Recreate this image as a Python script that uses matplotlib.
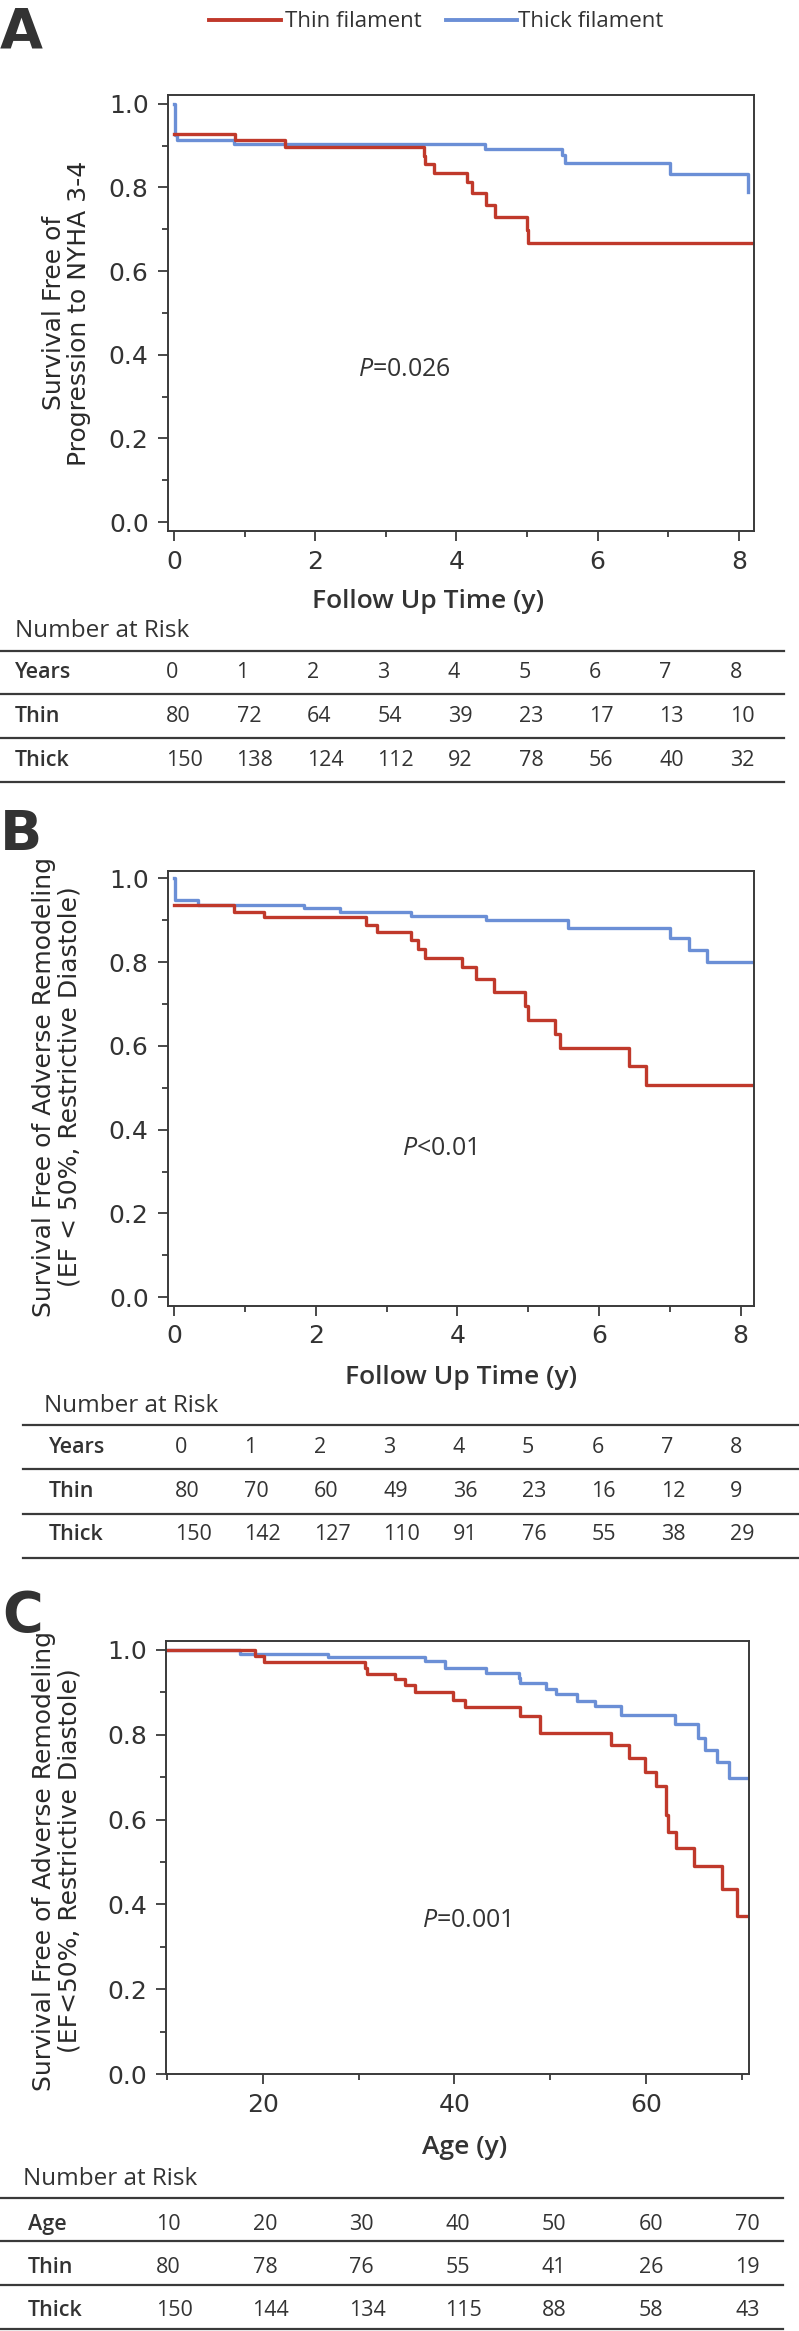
import matplotlib.pyplot as plt
from matplotlib.lines import Line2D
from matplotlib.ticker import MultipleLocator

W, H = 799, 2331
RED = "#c0392b"
BLUE = "#6b8fd6"
GRAY = "#3a3a3a"
TXT = "#333333"

# Panel A: progression to NYHA 3-4 (years)
thin_a_t = [0, 0.87, 1.57, 3.54, 3.56, 3.68, 4.15, 4.22, 4.42, 4.54, 5.0, 5.01, 8.21]
thin_a_s = [0.927, 0.913, 0.897, 0.875, 0.856, 0.835, 0.812, 0.786, 0.759, 0.730, 0.699, 0.667, 0.667]
thick_a_t = [0, 0.01, 0.04, 0.85, 4.41, 5.49, 5.54, 7.03, 8.13, 8.13]
thick_a_s = [1.0, 0.925, 0.913, 0.904, 0.891, 0.877, 0.858, 0.832, 0.788, 0.788]

# Panel B: adverse remodeling (years)
thin_b_t = [0, 0.85, 1.27, 2.71, 2.87, 3.35, 3.45, 3.55, 4.07, 4.27, 4.52, 4.96, 5.0, 5.38, 5.45, 6.42, 6.66, 8.19]
thin_b_s = [0.935, 0.919, 0.907, 0.888, 0.871, 0.853, 0.831, 0.809, 0.787, 0.759, 0.728, 0.694, 0.662, 0.629, 0.594, 0.552, 0.507, 0.507]
thick_b_t = [0, 0.01, 0.34, 1.84, 2.35, 3.35, 4.4, 5.56, 7.0, 7.27, 7.52, 8.19]
thick_b_s = [1.0, 0.947, 0.937, 0.929, 0.919, 0.911, 0.900, 0.882, 0.858, 0.829, 0.801, 0.801]

# Panel C: adverse remodeling (age)
thin_c_t = [10, 19.2, 20.1, 30.7, 30.9, 33.8, 34.9, 35.9, 39.9, 41.1, 46.9, 48.9, 56.4, 58.2,
            59.9, 61.1, 62.1, 62.3, 63.1, 65.0, 67.9, 69.5, 70.8]
thin_c_s = [1.0, 0.985, 0.971, 0.957, 0.944, 0.932, 0.917, 0.900, 0.882, 0.865, 0.844, 0.804, 0.776, 0.745,
            0.713, 0.678, 0.611, 0.570, 0.534, 0.491, 0.436, 0.373, 0.373]
thick_c_t = [10, 17.6, 26.8, 36.9, 39.0, 43.3, 46.8, 46.9, 49.6, 50.6, 52.8, 54.7, 57.4, 63.0,
             65.4, 66.2, 67.4, 68.7, 70.8]
thick_c_s = [1.0, 0.990, 0.984, 0.975, 0.957, 0.945, 0.933, 0.921, 0.908, 0.896, 0.880, 0.868, 0.847, 0.825,
             0.792, 0.764, 0.735, 0.699, 0.699]

# Number at risk tables
years = [0, 1, 2, 3, 4, 5, 6, 7, 8]
risk_a_thin = [80, 72, 64, 54, 39, 23, 17, 13, 10]
risk_a_thick = [150, 138, 124, 112, 92, 78, 56, 40, 32]
risk_b_thin = [80, 70, 60, 49, 36, 23, 16, 12, 9]
risk_b_thick = [150, 142, 127, 110, 91, 76, 55, 38, 29]
ages = [10, 20, 30, 40, 50, 60, 70]
risk_c_thin = [80, 78, 76, 55, 41, 26, 19]
risk_c_thick = [150, 144, 134, 115, 88, 58, 43]

plt.rcParams["font.family"] = ["DejaVu Sans"]
plt.rcParams["mathtext.fontset"] = "custom"
plt.rcParams["mathtext.rm"] = "Open Sans"
plt.rcParams["mathtext.it"] = "Open Sans:italic"

fig = plt.figure(figsize=(W / 100, H / 100), dpi=100)


def fx(x):
    return x / W


def fy(y):
    return 1 - y / H


def make_axes(left, top, right, bottom):
    return fig.add_axes([fx(left), fy(bottom), (right - left) / W, (bottom - top) / H])


def style_axes(ax, xlim, ylim, xmajor, xminor):
    ax.set_xlim(*xlim)
    ax.set_ylim(*ylim)
    ax.xaxis.set_major_locator(MultipleLocator(xmajor))
    ax.xaxis.set_minor_locator(MultipleLocator(xminor))
    ax.yaxis.set_major_locator(MultipleLocator(0.2))
    ax.yaxis.set_minor_locator(MultipleLocator(0.1))
    ax.yaxis.set_major_formatter(lambda v, p: f"{v:.1f}")
    for sp in ax.spines.values():
        sp.set_linewidth(1.4)
        sp.set_color(GRAY)
    ax.tick_params(which="major", direction="out", length=7.5, width=1.3, color=GRAY,
                   labelcolor=TXT, labelsize=18, pad=6)
    ax.tick_params(which="minor", direction="out", length=4.5, width=1.3, color=GRAY)


def draw_curves(ax, t1, s1, t2, s2):
    ax.step(t2, s2, where="post", color=BLUE, lw=2.4)
    ax.step(t1, s1, where="post", color=RED, lw=2.4)


def draw_table(title_base, title_x, line_ys, x0, x1, label_x, baselines, col_lefts, rows):
    fig.text(fx(title_x), fy(title_base), "Number at Risk", family="Open Sans", fontsize=17.5,
             color=TXT, va="baseline", ha="left")
    for y in line_ys:
        fig.add_artist(Line2D([fx(x0), fx(x1)], [fy(y), fy(y)], transform=fig.transFigure,
                              color=GRAY, lw=1.6))
    for (label, vals), base in zip(rows, baselines):
        fig.text(fx(label_x), fy(base), label, family="Open Sans", fontweight="semibold",
                 fontsize=15.5, color=TXT, va="baseline", ha="left")
        for v, cx in zip(vals, col_lefts):
            fig.text(fx(cx), fy(base), str(v), family="Open Sans", fontsize=15.5,
                     color=TXT, va="baseline", ha="left")


def ylabel(x, y, text):
    fig.text(fx(x), fy(y), text, rotation=90, ha="center", va="center", multialignment="center",
             linespacing=1.07, fontsize=18, color="#2a2a2a", family="DejaVu Sans")


def panel_letter(x, base, letter):
    fig.text(fx(x), fy(base), letter, family=["Liberation Sans Narrow", "DejaVu Sans"],
             fontweight="bold", fontsize=40, color=TXT, va="baseline", ha="left")


# legend
fig.add_artist(Line2D([fx(209), fx(281)], [fy(19.5), fy(19.5)], transform=fig.transFigure, color=RED, lw=2.8))
fig.text(fx(285), fy(27), "Thin filament", family="Open Sans", fontsize=16, color=TXT, va="baseline")
fig.add_artist(Line2D([fx(446), fx(517)], [fy(19.5), fy(19.5)], transform=fig.transFigure, color=BLUE, lw=2.8))
fig.text(fx(518), fy(27), "Thick filament", family="Open Sans", fontsize=16, color=TXT, va="baseline")

# ---- Panel A
panel_letter(0, 48, "A")
ax_a = make_axes(167.5, 95, 754, 531)
style_axes(ax_a, (-0.092, 8.215), (-0.0215, 1.0208), 2, 1)
draw_curves(ax_a, thin_a_t, thin_a_s, thick_a_t, thick_a_s)
ax_a.text(3.26, 0.364, "$P$=0.026", family="Open Sans", fontsize=18, color=TXT, ha="center", va="center")
ylabel(66.5, 313, "Survival Free of\nProgression to NYHA 3-4")
fig.text(fx(428), fy(602), "Follow Up Time (y)", family="Open Sans", fontweight="semibold",
         fontsize=19, color=TXT, ha="center", va="center")
draw_table(637, 15, [650.7, 694, 737.7, 782], 0, 784, 15, [678, 722, 766],
           [166 + 70.5 * i for i in range(len(years))],
           [("Years", years), ("Thin", risk_a_thin), ("Thick", risk_a_thick)])

# ---- Panel B
panel_letter(0, 850, "B")
ax_b = make_axes(167.5, 870.7, 754, 1305.5)
style_axes(ax_b, (-0.093, 8.19), (-0.0198, 1.018), 2, 1)
draw_curves(ax_b, thin_b_t, thin_b_s, thick_b_t, thick_b_s)
ax_b.text(3.74, 0.356, "$P$<0.01", family="Open Sans", fontsize=18, color=TXT, ha="center", va="center")
ylabel(56.5, 1087, "Survival Free of Adverse Remodeling\n(EF < 50%, Restrictive Diastole)")
fig.text(fx(461), fy(1378), "Follow Up Time (y)", family="Open Sans", fontweight="semibold",
         fontsize=19, color=TXT, ha="center", va="center")
draw_table(1412, 43.5, [1425, 1469, 1514, 1558], 23, 799, 49, [1453, 1497, 1540],
           [175 + 69.4 * i for i in range(len(years))],
           [("Years", years), ("Thin", risk_b_thin), ("Thick", risk_b_thick)])

# ---- Panel C
panel_letter(2, 1631, "C")
ax_c = make_axes(166, 1641, 749.3, 2074)
style_axes(ax_c, (9.9, 70.8), (0, 1.021), 20, 10)
draw_curves(ax_c, thin_c_t, thin_c_s, thick_c_t, thick_c_s)
ax_c.text(41.3, 0.363, "$P$=0.001", family="Open Sans", fontsize=18, color=TXT, ha="center", va="center")
ylabel(56.5, 1861, "Survival Free of Adverse Remodeling\n(EF<50%, Restrictive Diastole)")
fig.text(fx(464.6), fy(2148), "Age (y)", family="Open Sans", fontweight="semibold",
         fontsize=19, color=TXT, ha="center", va="center")
draw_table(2185, 23, [2198, 2241, 2285, 2329], 0, 783, 28, [2230, 2273, 2316],
           [156 + 96.5 * i for i in range(len(ages))],
           [("Age", ages), ("Thin", risk_c_thin), ("Thick", risk_c_thick)])

fig.savefig("out.png", dpi=100)
